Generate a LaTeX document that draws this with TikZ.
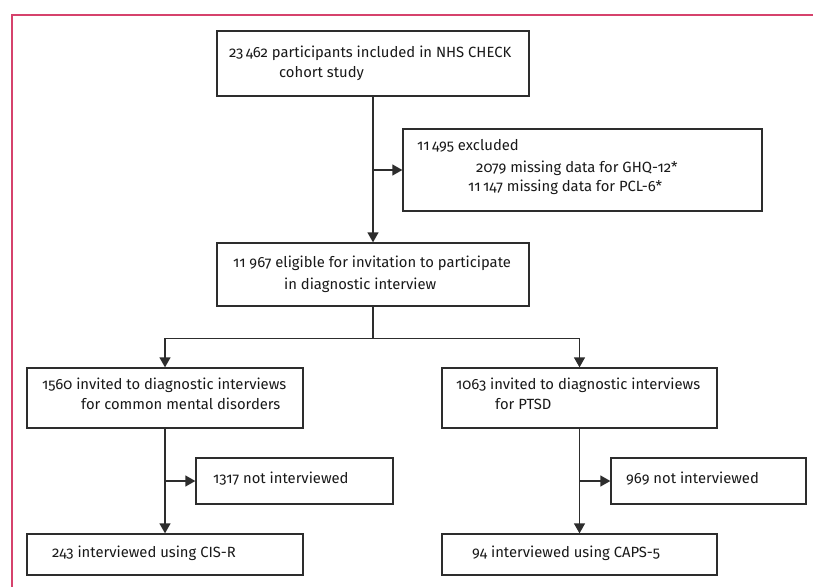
\documentclass[tikz,border=0pt]{standalone}
\usepackage{fontspec}
\setmainfont{Fira Sans}[Numbers=OldStyle]
\usetikzlibrary{fit,arrows.meta,calc}
\definecolor{framepink}{RGB}{214,66,108}
\definecolor{boxline}{RGB}{45,45,45}
\definecolor{txt}{RGB}{25,25,25}
\tikzset{
  box/.style={draw=boxline, line width=1.3bp, inner sep=0pt, fill=white},
  lbl/.style={anchor=mid west, inner sep=0pt, text=txt, font=\fontsize{14.8bp}{17bp}\selectfont},
  arr/.style={draw=boxline, line width=1.3bp, -{Triangle[length=10bp,width=11bp]}},
  conn/.style={draw=boxline, line width=1.3bp},
}
\begin{document}
\begin{tikzpicture}[x=1bp,y=-1bp]
\useasboundingbox (0,0) rectangle (813,587);
\coordinate (fa) at (12,587);
\coordinate (fb) at (12,15);
\coordinate (fc) at (813,15);
\draw[framepink, line width=1.5bp] (fa) -- (fb) -- (fc);

% boxes
\node[box, fit={(217,31) (529,96)}] (b1) {};
\node[box, fit={(403,129) (762,211)}] (ex) {};
\node[box, fit={(217,243) (529,306)}] (b3) {};
\node[box, fit={(27,368) (303,428)}] (b4) {};
\node[box, fit={(442,368) (717,428)}] (b5) {};
\node[box, fit={(196,458) (393,504)}] (n1) {};
\node[box, fit={(611,458) (806,504)}] (n2) {};
\node[box, fit={(27,534) (303,575)}] (i1) {};
\node[box, fit={(442,534) (717,575)}] (i2) {};

% texts
\node[lbl] (t1a) at (229,55) {23\,462 participants included in NHS CHECK};
\node[lbl] (t1b) at (279,75) {cohort study};
\node[lbl] (tea) at (417,148) {11\,495 excluded};
\node[lbl] (teb) at (476,170) {2079 missing data for GHQ-12*};
\node[lbl] (tec) at (468,189) {11\,147 missing data for PCL-6*};
\node[lbl] (t3a) at (233,265) {11 967 eligible for invitation to participate};
\node[lbl] (t3b) at (284,287) {in diagnostic interview};
\node[lbl] (t4a) at (42,387) {1560 invited to diagnostic interviews};
\node[lbl] (t4b) at (81,407) {for common mental disorders};
\node[lbl] (t5a) at (456,387) {1063 invited to diagnostic interviews};
\node[lbl] (t5b) at (495,407) {for PTSD};
\node[lbl] (tn1) at (213,481) {1317 not interviewed};
\node[lbl] (tn2) at (626,481) {969 not interviewed};
\node[lbl] (ti1) at (52,555) {243 interviewed using CIS-R};
\node[lbl] (ti2) at (472,555) {94 interviewed using CAPS-5};

% connectors
\coordinate (j1) at (b1.south |- ex.west);
\draw[arr] (b1.south) -- (b3.north);
\draw[arr] (j1) -- (ex.west);
\coordinate (j2) at ($(b3.south)+(0,32)$);
\draw[conn] (b3.south) -- (j2);
\draw[arr] (j2) -| (b4.north);
\draw[arr] (j2) -| (b5.north);
\coordinate (j3) at (b4.south |- n1.west);
\draw[arr] (b4.south) -- (i1.north);
\draw[arr] (j3) -- (n1.west);
\coordinate (j4) at (b5.south |- n2.west);
\draw[arr] (b5.south) -- (i2.north);
\draw[arr] (j4) -- (n2.west);
\end{tikzpicture}
\end{document}
